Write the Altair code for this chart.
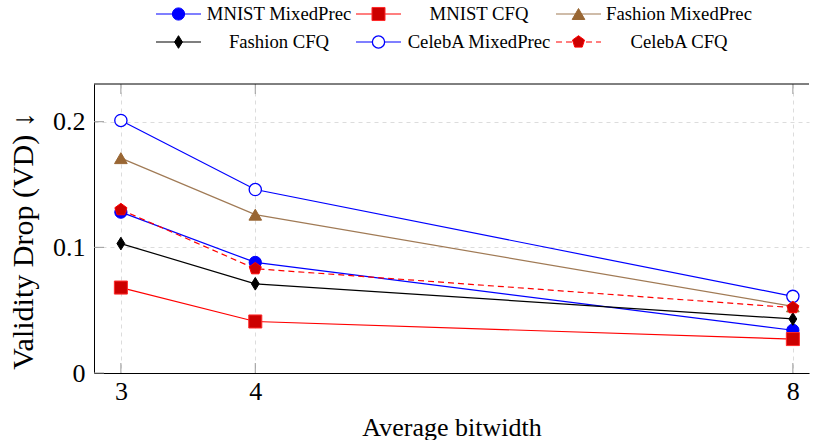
import altair as alt
import pandas as pd

# ---------------- data ----------------
bitwidths = [3, 4, 8]
series_names = ["MNIST MixedPrec", "MNIST CFQ", "Fashion MixedPrec",
                "Fashion CFQ", "CelebA MixedPrec", "CelebA CFQ"]
mnist_mixedprec = [0.128, 0.088, 0.034]
mnist_cfq = [0.068, 0.041, 0.027]
fashion_mixedprec = [0.171, 0.126, 0.053]
fashion_cfq = [0.103, 0.071, 0.043]
celeba_mixedprec = [0.201, 0.146, 0.061]
celeba_cfq = [0.130, 0.083, 0.052]
x_ticks = [3, 4, 8]
y_ticks = [0, 0.1, 0.2]

series_values = [mnist_mixedprec, mnist_cfq, fashion_mixedprec,
                 fashion_cfq, celeba_mixedprec, celeba_cfq]

rows = []
for name, vals in zip(series_names, series_values):
    for b, v in zip(bitwidths, vals):
        rows.append({"series": name, "bitwidth": b, "vd": v})
df = pd.DataFrame(rows)

# ---------------- styles ----------------
PENTAGON = "M0,-1L0.951,-0.309L0.588,0.809L-0.588,0.809L-0.951,-0.309Z"
DIAMOND = "M0,-1L0.62,0L0,1L-0.62,0Z"
styles = {
    "MNIST MixedPrec": dict(line="#0000ff", dash=None,
                            mk=dict(shape="circle", size=150, fill="#0000ff", stroke="#0000ff", strokeWidth=1)),
    "MNIST CFQ": dict(line="#ff0000", dash=None,
                      mk=dict(shape="square", size=170, fill="#cc0000", stroke="#ff2a2a", strokeWidth=1)),
    "Fashion MixedPrec": dict(line="#a07a55", dash=None,
                              mk=dict(shape="triangle-up", size=160, fill="#996633", stroke="#996633", strokeWidth=1)),
    "Fashion CFQ": dict(line="#000000", dash=None,
                        mk=dict(shape=DIAMOND, size=160, fill="#000000", stroke="#000000", strokeWidth=1)),
    "CelebA MixedPrec": dict(line="#0000ff", dash=None,
                             mk=dict(shape="circle", size=150, fill="#ffffff", stroke="#0000ff", strokeWidth=1.3)),
    "CelebA CFQ": dict(line="#ff0000", dash=[6, 4],
                       mk=dict(shape=PENTAGON, size=160, fill="#cc0000", stroke="#ff0000", strokeWidth=1)),
}

SERIF = "Liberation Serif"
X_DOM = [2.8, 8.12]
Y_DOM = [0, 0.23]
PLOT_W, PLOT_H = 715, 289
tick_dy = 10 * (Y_DOM[1] - Y_DOM[0]) / PLOT_H
tick_dx = 10 * (X_DOM[1] - X_DOM[0]) / PLOT_W

X = alt.X("bitwidth:Q",
          scale=alt.Scale(domain=X_DOM, nice=False, zero=False),
          axis=alt.Axis(values=x_ticks, title="Average bitwidth", format="~g",
                        labelPadding=5, ticks=False, domainColor="black",
                        domainWidth=1, grid=True, gridDash=[4, 4],
                        gridColor="#dcdcdc", titlePadding=10))
Y = alt.Y("vd:Q",
          scale=alt.Scale(domain=Y_DOM, nice=False, zero=False),
          axis=alt.Axis(values=y_ticks, title="Validity Drop (VD) \u2193", format="~g",
                        labelPadding=9, ticks=False, domainColor="black",
                        domainWidth=1, grid=True, gridDash=[4, 4],
                        gridColor="#dcdcdc", titlePadding=14,
                        titleFontSize=30, titleY=PLOT_H / 2 + 12))

# frame pieces and inward ticks (derived from tick lists and domain)
bottom_ticks = pd.DataFrame({"bitwidth": x_ticks, "vd": [Y_DOM[0]] * 3,
                             "vd2": [Y_DOM[0] + tick_dy] * 3})
top_ticks = pd.DataFrame({"bitwidth": x_ticks, "vd": [Y_DOM[1]] * 3,
                          "vd2": [Y_DOM[1] - tick_dy] * 3})
left_ticks = pd.DataFrame({"bitwidth": [X_DOM[0]] * 3,
                           "bw2": [X_DOM[0] + tick_dx] * 3, "vd": y_ticks})
top_frame = pd.DataFrame({"bitwidth": [X_DOM[0]], "bw2": [X_DOM[1]], "vd": [Y_DOM[1]]})

layers = [
    alt.Chart(bottom_ticks).mark_rule(color="#9a9a9a", strokeWidth=1).encode(x=X, y=Y, y2="vd2"),
    alt.Chart(top_ticks).mark_rule(color="#9a9a9a", strokeWidth=1).encode(x=X, y=Y, y2="vd2"),
    alt.Chart(left_ticks).mark_rule(color="#9a9a9a", strokeWidth=1).encode(x=X, x2="bw2", y=Y),
    alt.Chart(top_frame).mark_rule(color="black", strokeWidth=1).encode(x=X, x2="bw2", y=Y),
]

for name in series_names:
    st = styles[name]
    base = alt.Chart(df).transform_filter(alt.datum.series == name)
    line_kw = dict(color=st["line"], strokeWidth=1.2)
    if st["dash"]:
        line_kw["strokeDash"] = st["dash"]
    layers.append(base.mark_line(**line_kw).encode(x=X, y=Y))
    layers.append(base.mark_point(filled=True, opacity=1, fillOpacity=1, **st["mk"]).encode(x=X, y=Y))

main = alt.layer(*layers).properties(width=PLOT_W, height=PLOT_H)

# ---------------- legend ----------------
leg_rows = []
for i, name in enumerate(series_names):
    c, r = i % 3, i // 3
    leg_rows.append({"series": name, "row": r, "s0": c, "s1": c + 0.225,
                     "sm": c + 0.1125, "tx": c + 0.615})
leg_df = pd.DataFrame(leg_rows)

LX_SCALE = alt.Scale(domain=[-0.31, 3.265], nice=False, zero=False)
LY = alt.Y("row:Q", scale=alt.Scale(domain=[-0.5, 1.5], reverse=True, nice=False, zero=False), axis=None)

leg_layers = []
for name in series_names:
    st = styles[name]
    lb = alt.Chart(leg_df).transform_filter(alt.datum.series == name)
    rule_kw = dict(color=st["line"], strokeWidth=1.2)
    if st["dash"]:
        rule_kw["strokeDash"] = st["dash"]
    leg_layers.append(lb.mark_rule(**rule_kw).encode(
        x=alt.X("s0:Q", scale=LX_SCALE, axis=None), x2="s1", y=LY))
    leg_layers.append(lb.mark_point(filled=True, opacity=1, fillOpacity=1, **st["mk"]).encode(
        x=alt.X("sm:Q", scale=LX_SCALE, axis=None), y=LY))
leg_layers.append(alt.Chart(leg_df).mark_text(fontSize=18.7, align="center",
                                               baseline="middle", color="black").encode(
    x=alt.X("tx:Q", scale=LX_SCALE, axis=None), y=LY, text="series:N"))

legend = alt.layer(*leg_layers).properties(width=PLOT_W, height=56)

chart = alt.vconcat(legend, main, spacing=28, bounds="flush").properties(
    padding={"left": 8, "top": 0, "right": 0, "bottom": 0},
    background="white",
).configure_view(stroke=None).configure_axis(
    labelFont=SERIF, labelFontSize=26, labelColor="black",
    titleFont=SERIF, titleFontSize=26, titleFontWeight="normal", titleColor="black",
).configure_text(font=SERIF)

chart.save("out.html", embed_options={"renderer": "svg", "actions": False})
